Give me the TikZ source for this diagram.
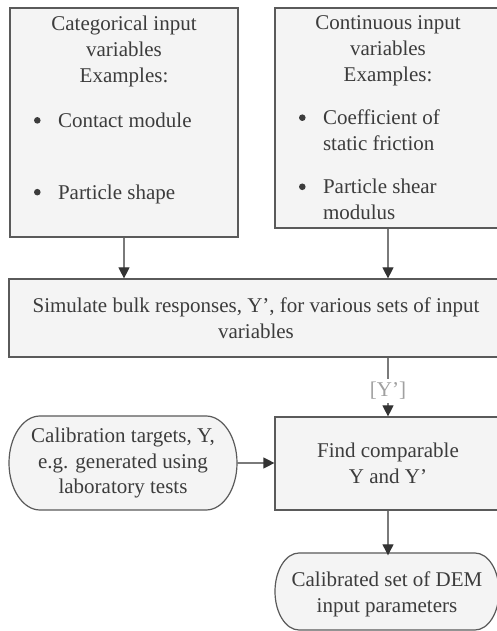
\documentclass[tikz,border=0pt]{standalone}
\usepackage{fontspec}
\setmainfont{Liberation Serif}
\usetikzlibrary{arrows.meta}
\usetikzlibrary{positioning}

\definecolor{boxfill}{HTML}{F4F4F4}
\definecolor{boxline}{HTML}{5A5A5A}
\definecolor{txt}{HTML}{3C3C3C}
\definecolor{wire}{HTML}{7A7A7A}
\definecolor{tag}{HTML}{A0A0A0}
\newcommand{\bitem}{\noindent\hspace*{14pt}\makebox[24pt][l]{\raisebox{3.8pt}{\tikz\fill[txt] (0,0) circle (3.3pt);}}}

\begin{document}
\begin{tikzpicture}[x=1pt, y=1pt, font=\fontsize{21}{25.8}\selectfont, text=txt,
	stepbox/.style={draw=boxline, fill=boxfill, line width=1.2pt, inner xsep=10pt, inner ysep=0pt},
	termline/.style={draw=boxline, fill=boxfill, line width=1.2pt},
	term/.style={inner sep=0pt, align=center},
	flow/.style={draw=wire, line width=1.2pt, -{Triangle[width=11pt,length=11pt,color=black!80]}}]
	 \useasboundingbox (0,0) rectangle (497,631);
	 \clip (0,0) rectangle (497,631);
	 \fill[white] (0,0) rectangle (497,631);
	 % inputs
	 \node[stepbox] (cat) at (124,508.5) {\parbox[c][229pt][t]{208pt}{\vspace*{8pt}%
		{\centering Categorical input\\ variables\\ Examples:\par}
		\vspace{19.5pt}
		\bitem Contact module\par
		\vspace{46pt}
		\bitem Particle shape\par}};
	 \node[stepbox] (cont) at (388,513) {\parbox[c][220pt][t]{206pt}{\vspace*{8pt}%
		{\centering Continuous input\\ variables\\ Examples:\par}
		\vspace{17.5pt}
		\hangindent=38pt \hangafter=1
		\bitem Coefficient of\\ static friction\par
		\vspace{17.5pt}
		\hangindent=38pt \hangafter=1
		\bitem Particle shear\\ modulus\par}};
	 \node[stepbox, minimum width=494pt, align=center, minimum height=78pt] (sim) at (256,313)
		{Simulate bulk responses, Y', for various sets of input\\ variables};
	 \node[stepbox, minimum width=226pt, minimum height=93pt, align=center] (find) at (388,167.5)
		{Find comparable\\ Y and Y'};
	 % terminals
	 \draw[termline] (40,215) -- (206,215) arc[start angle=90, end angle=-90, x radius=31pt, y radius=47pt]
		-- (40,121) arc[start angle=270, end angle=90, x radius=31pt, y radius=47pt] -- cycle;
	 \node[term, minimum width=228pt, minimum height=94pt] (calib) at (123,168)
		{Calibration targets, Y,\\ e.g. generated using\\ laboratory tests};
	 \draw[termline] (299,78) -- (475,78) arc[start angle=90, end angle=-90, x radius=24pt, y radius=38.5pt]
		-- (299,1) arc[start angle=270, end angle=90, x radius=24pt, y radius=38.5pt] -- cycle;
	 \node[term, minimum width=224pt, minimum height=77pt] (dem) at (387,37)
		{Calibrated set of DEM\\ input parameters};
	 % connectors
	 \draw[flow] (cat.south) -- (cat.south |- sim.north);
	 \draw[flow] (cont.south) -- (cont.south |- sim.north);
	 \draw[flow] (sim.south -| find.north) -- node[fill=white, text=tag, inner xsep=1pt, inner ysep=3pt, yshift=-4pt] {[Y']} (find.north);
	 \draw[flow] (calib.east) -- (calib.east -| find.west);
	 \draw[flow] (find.south) -- (find.south |- dem.north);
\end{tikzpicture}
\end{document}
